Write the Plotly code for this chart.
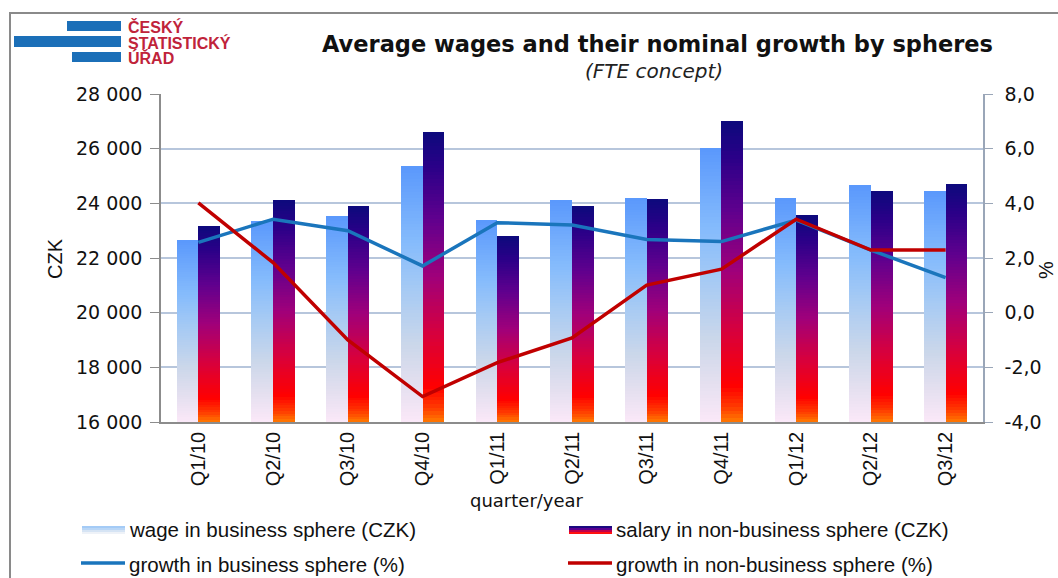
import plotly.graph_objects as go

# ---------------- data ----------------
categories = ["Q1/10", "Q2/10", "Q3/10", "Q4/10", "Q1/11", "Q2/11",
              "Q3/11", "Q4/11", "Q1/12", "Q2/12", "Q3/12"]
wage_business = [22650, 23350, 23540, 25350, 23390, 24110,
                 24180, 26020, 24180, 24670, 24460]
salary_nonbusiness = [23170, 24110, 23890, 26610, 22790, 23890,
                      24150, 27000, 23570, 24440, 24710]
growth_business = [2.57, 3.42, 3.00, 1.71, 3.29, 3.21,
                   2.68, 2.60, 3.39, 2.29, 1.28]
growth_nonbusiness = [4.02, 1.83, -1.00, -3.07, -1.83, -0.92,
                      1.01, 1.59, 3.42, 2.29, 2.29]
left_ticks = [16000, 18000, 20000, 22000, 24000, 26000, 28000]
left_tick_labels = ["16 000", "18 000", "20 000", "22 000", "24 000", "26 000", "28 000"]
right_ticks = [-4, -2, 0, 2, 4, 6, 8]
right_tick_labels = ["-4,0", "-2,0", "0,0", "2,0", "4,0", "6,0", "8,0"]
legend_labels = ["wage in business sphere (CZK)", "salary in non-business sphere (CZK)",
                 "growth in business sphere (%)", "growth in non-business sphere (%)"]

# ---------------- layout geometry ----------------
W, H = 1058, 578
L, R, T, B = 161, 983, 94, 422
Y_MIN, Y_MAX = 16000, 28000


def px(x):
    return (x - L) / (R - L)


def py(y):
    return (B - y) / (B - T)


def hex2rgb(h):
    h = h.lstrip("#")
    return tuple(int(h[i:i + 2], 16) for i in (0, 2, 4))


def interp(stops, t):
    for (t0, c0), (t1, c1) in zip(stops, stops[1:]):
        if t0 <= t <= t1:
            f = (t - t0) / (t1 - t0) if t1 > t0 else 0
            a, b = hex2rgb(c0), hex2rgb(c1)
            return "rgb(%d,%d,%d)" % tuple(round(a[i] + (b[i] - a[i]) * f) for i in range(3))
    return stops[-1][1]


light_stops = [(0.0, "#fbe8f8"), (0.15, "#e3dfef"), (0.3, "#cbd7ea"),
               (0.5, "#a9cbf3"), (0.7, "#86bcfc"), (1.0, "#5a98fc")]
dark_stops = [(0.0, "#ff7a00"), (0.05, "#ff3a00"), (0.12, "#ff0000"),
              (0.3, "#d8003c"), (0.5, "#a0007a"), (0.7, "#60008e"),
              (0.88, "#2a0088"), (1.0, "#0c0a7c")]

NSEG = 80
BAR_W = 0.29


def gradient_bar(values, stops, offset, name):
    xs, bases, heights, colors = [], [], [], []
    for cat, v in zip(categories, values):
        seg = (v - Y_MIN) / NSEG
        for k in range(NSEG):
            xs.append(cat)
            bases.append(Y_MIN + k * seg)
            heights.append(seg * 1.05 if k < NSEG - 1 else seg)
            colors.append(interp(stops, (k + 0.5) / NSEG))
    return go.Bar(x=xs, y=heights, base=bases, name=name, width=BAR_W, offset=offset,
                  marker=dict(color=colors, line=dict(width=0)),
                  showlegend=False, hoverinfo="skip")


fig = go.Figure()
fig.add_trace(gradient_bar(wage_business, light_stops, -BAR_W, legend_labels[0]))
fig.add_trace(gradient_bar(salary_nonbusiness, dark_stops, 0.0, legend_labels[1]))
fig.add_trace(go.Scatter(x=categories, y=growth_business, yaxis="y2", mode="lines",
                         line=dict(color="#1a75bc", width=3.5), name=legend_labels[2],
                         showlegend=False))
fig.add_trace(go.Scatter(x=categories, y=growth_nonbusiness, yaxis="y2", mode="lines",
                         line=dict(color="#c00000", width=3.5), name=legend_labels[3],
                         showlegend=False))

FONT = "Liberation Sans, Arial, sans-serif"
WIDE = "DejaVu Sans, Verdana, sans-serif"

shapes = []
annotations = []

# outer frame
shapes.append(dict(type="rect", xref="paper", yref="paper",
                   x0=px(10), x1=px(1075), y0=py(600), y1=py(13),
                   line=dict(color="#8a8a8a", width=2), fillcolor="rgba(0,0,0,0)"))

# logo bars
for (x0, x1, y0, y1) in [(67, 121, 21, 31), (14, 121, 36, 47), (72, 121, 52, 62)]:
    shapes.append(dict(type="rect", xref="paper", yref="paper",
                       x0=px(x0), x1=px(x1), y0=py(y1), y1=py(y0),
                       line=dict(width=0), fillcolor="#1b6fb8"))
for txt, yy in [("ČESKÝ", 27), ("STATISTICKÝ", 42.5), ("ÚŘAD", 58)]:
    annotations.append(dict(text="<b>%s</b>" % txt, xref="paper", yref="paper",
                            x=px(126), y=py(yy), xanchor="left", yanchor="middle",
                            showarrow=False, font=dict(family=FONT, size=16, color="#c0233a")))

# titles
annotations.append(dict(text="<b>Average wages and their nominal growth by spheres</b>",
                        xref="paper", yref="paper", x=px(657), y=py(44),
                        xanchor="center", yanchor="middle", showarrow=False,
                        font=dict(family=WIDE, size=22.5, color="#111111")))
annotations.append(dict(text="<i>(FTE concept)</i>",
                        xref="paper", yref="paper", x=px(654), y=py(71),
                        xanchor="center", yanchor="middle", showarrow=False,
                        font=dict(family=WIDE, size=20, color="#222222")))
# axis titles
annotations.append(dict(text="CZK", xref="paper", yref="paper", x=px(55), y=py(258),
                        xanchor="center", yanchor="middle", textangle=-90, showarrow=False,
                        font=dict(family=FONT, size=20, color="#111111")))
annotations.append(dict(text="%", xref="paper", yref="paper", x=px(1046), y=py(270),
                        xanchor="center", yanchor="middle", textangle=-90, showarrow=False,
                        font=dict(family=FONT, size=20, color="#111111")))
annotations.append(dict(text="quarter/year", xref="paper", yref="paper", x=px(527), y=py(500),
                        xanchor="center", yanchor="middle", showarrow=False,
                        font=dict(family=WIDE, size=18, color="#111111")))

# legend
light_sw = ["#a4cbf6", "#b9d6f6", "#d6e4f4", "#eef2f8"]
dark_sw = ["#1a0a80", "#5a0090", "#c0004a", "#ff1010"]
for i, c in enumerate(light_sw):
    shapes.append(dict(type="rect", xref="paper", yref="paper", x0=px(82), x1=px(125),
                       y0=py(526 + 2 * (i + 1)), y1=py(526 + 2 * i),
                       line=dict(width=0), fillcolor=c))
for i, c in enumerate(dark_sw):
    shapes.append(dict(type="rect", xref="paper", yref="paper", x0=px(569), x1=px(612),
                       y0=py(526 + 2 * (i + 1)), y1=py(526 + 2 * i),
                       line=dict(width=0), fillcolor=c))
shapes.append(dict(type="line", xref="paper", yref="paper", x0=px(81), x1=px(125),
                   y0=py(563), y1=py(563), line=dict(color="#1a75bc", width=3.5)))
shapes.append(dict(type="line", xref="paper", yref="paper", x0=px(568), x1=px(612),
                   y0=py(563), y1=py(563), line=dict(color="#c00000", width=3.5)))
for txt, xx, yy in [(legend_labels[0], 127, 529), (legend_labels[1], 614, 529),
                    (legend_labels[2], 127, 564), (legend_labels[3], 614, 564)]:
    annotations.append(dict(text=txt, xref="paper", yref="paper", x=px(xx), y=py(yy),
                            xanchor="left", yanchor="middle", showarrow=False,
                            font=dict(family=FONT, size=20.5, color="#111111")))

fig.update_layout(
    width=W, height=H,
    margin=dict(l=L, r=W - R, t=T, b=H - B, pad=0),
    paper_bgcolor="white", plot_bgcolor="white",
    barmode="overlay", bargap=0,
    showlegend=False,
    font=dict(family=FONT, size=20, color="#111111"),
    xaxis=dict(type="category", range=[-0.5, 10.5], tickangle=-90,
               showline=True, linecolor="#8c8c8c", linewidth=1.5,
               ticks="", showgrid=False, tickfont=dict(family=FONT, size=20),
               ticklabelstandoff=0),
    yaxis=dict(range=[Y_MIN, Y_MAX], tickvals=left_ticks, ticktext=left_tick_labels,
               showline=True, linecolor="#8c8c8c", linewidth=1.5,
               ticks="outside", ticklen=9, tickcolor="#8c8c8c",
               showgrid=True, gridcolor="#b7c6dc", gridwidth=1.5,
               zeroline=False, tickfont=dict(family=WIDE, size=19),
               ticklabelstandoff=4),
    yaxis2=dict(range=[-4, 8], tickvals=right_ticks, ticktext=right_tick_labels,
                overlaying="y", side="right",
                showline=True, linecolor="#9aa6b8", linewidth=1.5,
                ticks="outside", ticklen=8, tickcolor="#9aa6b8",
                showgrid=False, zeroline=False, tickfont=dict(family=WIDE, size=19),
                ticklabelstandoff=8),
    shapes=shapes,
    annotations=annotations,
)

fig.write_html("out.html", config={"displayModeBar": False},
               post_script="document.body.style.margin='0px';")
